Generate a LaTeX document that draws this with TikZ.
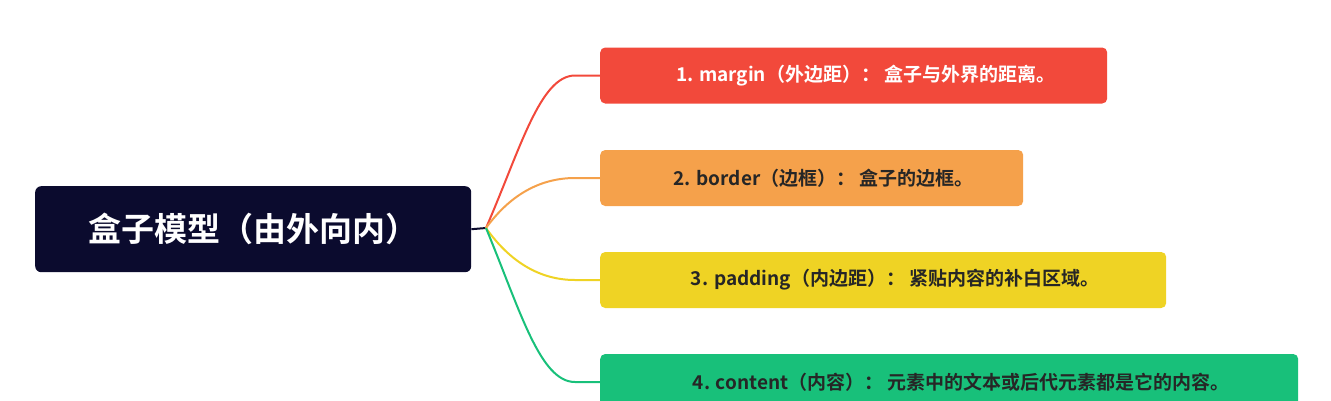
\documentclass[tikz,border=0pt]{standalone}
\usepackage{fontspec}
\setmainfont{Noto Sans CJK SC}[BoldFont={* Bold}]
\definecolor{navy}{HTML}{0B0B2E}
\definecolor{cred}{HTML}{F2493B}
\definecolor{corange}{HTML}{F5A14B}
\definecolor{cyellow}{HTML}{EFD324}
\definecolor{cgreen}{HTML}{18C07A}
\tikzset{
 box/.style={rounded corners=5pt,minimum height=56pt,anchor=west,inner sep=0pt,font=\fontsize{19}{19}\selectfont\bfseries,text=black!85},
 link/.style={line width=2pt,rounded corners=0pt}
}
\begin{document}
\begin{tikzpicture}[x=1pt,y=-1pt]
\useasboundingbox (0,0) rectangle (1331,400);
\node[fill=navy,rounded corners=6pt,minimum width=436pt,minimum height=86pt,anchor=north west,text=white,font=\fontsize{33}{33}\selectfont\bfseries,inner sep=0pt] (root) at (35,186) {盒子模型（由外向内）};
\coordinate (s) at (486,228);
\draw[link,navy] (root.east) -- (s);
\node[box,fill=cred,text=white,minimum width=507pt] (b1) at (600,75.5) {\hspace*{24pt}1. margin（外边距）： 盒子与外界的距离。\hfill};
\node[box,fill=corange,minimum width=423pt] (b2) at (600,178) {\hspace*{24pt}2. border（边框）： 盒子的边框。\hfill};
\node[box,fill=cyellow,minimum width=566pt] (b3) at (600,280) {\hspace*{24pt}3. padding（内边距）： 紧贴内容的补白区域。\hfill};
\node[box,fill=cgreen,minimum width=698pt] (b4) at (600,382) {\hspace*{24pt}4. content（内容）： 元素中的文本或后代元素都是它的内容。\hfill};
\draw[link,cred] (s) .. controls (520,150) and (540,75.5) .. (575,75.5) -- (b1.west);
\draw[link,corange] (s) .. controls (510,195) and (540,178) .. (575,178) -- (b2.west);
\draw[link,cyellow] (s) .. controls (510,262) and (540,280) .. (575,280) -- (b3.west);
\draw[link,cgreen] (s) .. controls (520,310) and (540,382) .. (575,382) -- (b4.west);
\end{tikzpicture}
\end{document}
